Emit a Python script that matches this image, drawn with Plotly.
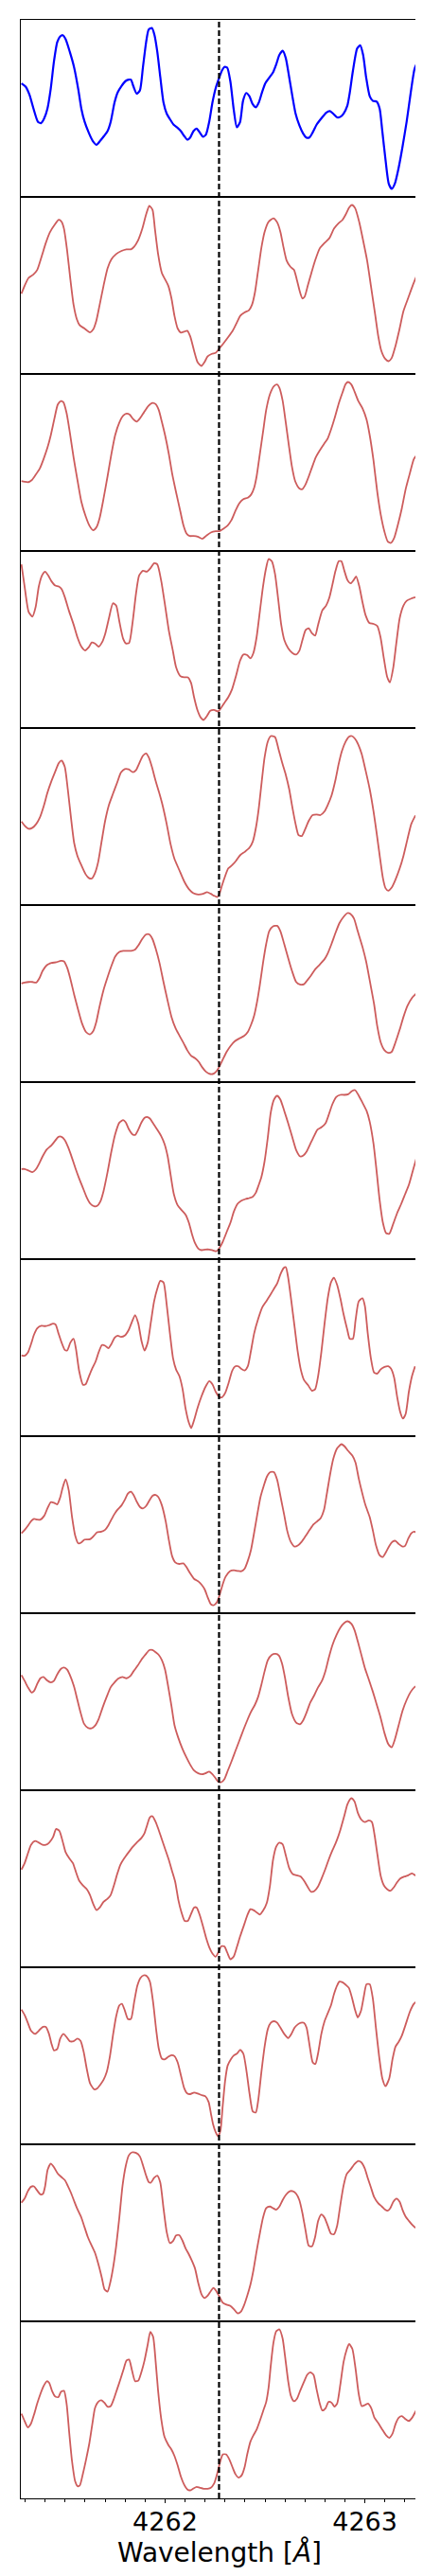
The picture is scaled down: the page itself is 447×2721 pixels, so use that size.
import plotly.graph_objects as go
from plotly.subplots import make_subplots

# ── Spectra: (wavelength [Å], relative flux) ─────────────────────────────────

SPEC_00 = [
    (4261.281, 0.720), (4261.302, 0.700), (4261.321, 0.650), (4261.344, 0.550), (4261.363, 0.480),
    (4261.379, 0.470), (4261.395, 0.500), (4261.411, 0.560), (4261.427, 0.680), (4261.444, 0.860),
    (4261.460, 0.980), (4261.475, 1.016), (4261.488, 1.024), (4261.502, 1.000), (4261.523, 0.920),
    (4261.545, 0.820), (4261.566, 0.680), (4261.581, 0.560), (4261.597, 0.480), (4261.618, 0.410),
    (4261.637, 0.360), (4261.657, 0.334), (4261.676, 0.360), (4261.695, 0.390), (4261.712, 0.420),
    (4261.728, 0.480), (4261.747, 0.600), (4261.763, 0.664), (4261.782, 0.704), (4261.803, 0.736),
    (4261.818, 0.744), (4261.829, 0.744), (4261.842, 0.700), (4261.858, 0.656), (4261.874, 0.676),
    (4261.889, 0.820), (4261.905, 0.980), (4261.918, 1.060), (4261.934, 1.070), (4261.946, 1.030),
    (4261.961, 0.920), (4261.976, 0.760), (4261.992, 0.600), (4262.008, 0.530), (4262.024, 0.496),
    (4262.043, 0.460), (4262.063, 0.440), (4262.079, 0.420), (4262.095, 0.390), (4262.111, 0.366),
    (4262.126, 0.380), (4262.142, 0.420), (4262.158, 0.436), (4262.174, 0.410), (4262.190, 0.384),
    (4262.205, 0.400), (4262.221, 0.480), (4262.237, 0.600), (4262.253, 0.690), (4262.269, 0.750),
    (4262.284, 0.800), (4262.297, 0.824), (4262.311, 0.820), (4262.327, 0.730), (4262.343, 0.560),
    (4262.359, 0.444), (4262.375, 0.476), (4262.390, 0.610), (4262.406, 0.660), (4262.422, 0.640),
    (4262.438, 0.590), (4262.454, 0.570), (4262.469, 0.600), (4262.485, 0.664), (4262.501, 0.720),
    (4262.521, 0.756), (4262.540, 0.790), (4262.556, 0.840), (4262.572, 0.900), (4262.589, 0.926),
    (4262.604, 0.880), (4262.621, 0.760), (4262.637, 0.640), (4262.653, 0.530), (4262.672, 0.456),
    (4262.691, 0.404), (4262.706, 0.380), (4262.722, 0.380), (4262.738, 0.410), (4262.758, 0.460),
    (4262.782, 0.500), (4262.806, 0.536), (4262.825, 0.546), (4262.841, 0.530), (4262.861, 0.506),
    (4262.877, 0.510), (4262.893, 0.530), (4262.912, 0.580), (4262.924, 0.660), (4262.940, 0.800),
    (4262.961, 0.940), (4262.976, 0.960), (4262.991, 0.900), (4263.006, 0.760), (4263.024, 0.640),
    (4263.040, 0.610), (4263.059, 0.606), (4263.074, 0.560), (4263.087, 0.420), (4263.103, 0.240),
    (4263.119, 0.090), (4263.134, 0.056), (4263.150, 0.090), (4263.169, 0.190), (4263.188, 0.320),
    (4263.209, 0.480), (4263.229, 0.660), (4263.248, 0.810), (4263.261, 0.850),
]

SPEC_01 = [
    (4261.281, 0.510), (4261.297, 0.560), (4261.317, 0.610), (4261.340, 0.630), (4261.360, 0.660),
    (4261.381, 0.740), (4261.403, 0.830), (4261.423, 0.896), (4261.447, 0.944), (4261.468, 0.976),
    (4261.482, 0.964), (4261.494, 0.920), (4261.510, 0.780), (4261.526, 0.600), (4261.542, 0.440),
    (4261.558, 0.350), (4261.573, 0.310), (4261.597, 0.290), (4261.624, 0.266), (4261.640, 0.284),
    (4261.656, 0.340), (4261.671, 0.430), (4261.692, 0.560), (4261.712, 0.670), (4261.731, 0.726),
    (4261.755, 0.760), (4261.782, 0.780), (4261.807, 0.790), (4261.829, 0.790), (4261.845, 0.806),
    (4261.866, 0.850), (4261.886, 0.920), (4261.905, 1.010), (4261.921, 1.064), (4261.937, 1.040),
    (4261.949, 0.920), (4261.965, 0.760), (4261.984, 0.640), (4262.000, 0.600), (4262.016, 0.560),
    (4262.032, 0.480), (4262.047, 0.370), (4262.063, 0.290), (4262.079, 0.264), (4262.095, 0.270),
    (4262.111, 0.276), (4262.126, 0.240), (4262.145, 0.150), (4262.163, 0.076), (4262.182, 0.054),
    (4262.198, 0.080), (4262.213, 0.114), (4262.234, 0.130), (4262.253, 0.136), (4262.269, 0.160),
    (4262.292, 0.196), (4262.316, 0.236), (4262.340, 0.280), (4262.360, 0.330), (4262.376, 0.370),
    (4262.398, 0.392), (4262.419, 0.404), (4262.435, 0.440), (4262.450, 0.520), (4262.466, 0.660),
    (4262.482, 0.800), (4262.498, 0.900), (4262.518, 0.964), (4262.542, 0.986), (4262.561, 0.960),
    (4262.577, 0.900), (4262.593, 0.800), (4262.608, 0.720), (4262.627, 0.680), (4262.645, 0.660),
    (4262.659, 0.600), (4262.675, 0.520), (4262.687, 0.480), (4262.698, 0.490), (4262.714, 0.560),
    (4262.732, 0.640), (4262.751, 0.720), (4262.774, 0.796), (4262.798, 0.830), (4262.822, 0.860),
    (4262.845, 0.920), (4262.869, 0.956), (4262.888, 0.976), (4262.904, 1.010), (4262.921, 1.054),
    (4262.935, 1.070), (4262.951, 1.050), (4262.972, 0.960), (4262.992, 0.840), (4263.011, 0.720),
    (4263.030, 0.560), (4263.051, 0.380), (4263.067, 0.240), (4263.082, 0.150), (4263.101, 0.100),
    (4263.119, 0.084), (4263.134, 0.104), (4263.153, 0.180), (4263.172, 0.280), (4263.193, 0.400),
    (4263.217, 0.484), (4263.240, 0.564), (4263.261, 0.630),
]

SPEC_02 = [
    (4261.281, 0.446), (4261.297, 0.442), (4261.316, 0.440), (4261.332, 0.452), (4261.352, 0.486),
    (4261.373, 0.526), (4261.392, 0.586), (4261.411, 0.656), (4261.428, 0.736), (4261.447, 0.846),
    (4261.463, 0.930), (4261.479, 0.952), (4261.491, 0.944), (4261.507, 0.876), (4261.523, 0.756),
    (4261.542, 0.596), (4261.561, 0.456), (4261.581, 0.316), (4261.602, 0.226), (4261.621, 0.166),
    (4261.640, 0.136), (4261.657, 0.156), (4261.673, 0.216), (4261.692, 0.336), (4261.712, 0.476),
    (4261.731, 0.616), (4261.750, 0.736), (4261.771, 0.816), (4261.791, 0.860), (4261.807, 0.872),
    (4261.823, 0.866), (4261.839, 0.840), (4261.858, 0.822), (4261.874, 0.842), (4261.894, 0.880),
    (4261.916, 0.920), (4261.937, 0.940), (4261.953, 0.932), (4261.968, 0.896), (4261.984, 0.820),
    (4262.000, 0.736), (4262.019, 0.616), (4262.035, 0.496), (4262.055, 0.376), (4262.076, 0.256),
    (4262.092, 0.166), (4262.107, 0.116), (4262.123, 0.100), (4262.142, 0.100), (4262.163, 0.096),
    (4262.186, 0.082), (4262.205, 0.100), (4262.229, 0.122), (4262.253, 0.130), (4262.272, 0.130),
    (4262.292, 0.146), (4262.313, 0.166), (4262.332, 0.200), (4262.351, 0.256), (4262.371, 0.306),
    (4262.392, 0.332), (4262.414, 0.342), (4262.430, 0.360), (4262.446, 0.406), (4262.458, 0.476),
    (4262.474, 0.616), (4262.490, 0.756), (4262.506, 0.896), (4262.525, 0.996), (4262.545, 1.046),
    (4262.561, 1.056), (4262.572, 1.036), (4262.588, 0.956), (4262.604, 0.816), (4262.619, 0.676),
    (4262.635, 0.536), (4262.651, 0.446), (4262.672, 0.400), (4262.687, 0.396), (4262.703, 0.426),
    (4262.719, 0.476), (4262.735, 0.532), (4262.754, 0.596), (4262.774, 0.640), (4262.798, 0.686),
    (4262.814, 0.716), (4262.830, 0.770), (4262.849, 0.846), (4262.869, 0.936), (4262.888, 1.006),
    (4262.904, 1.060), (4262.916, 1.072), (4262.932, 1.056), (4262.948, 1.012), (4262.967, 0.952),
    (4262.988, 0.906), (4263.008, 0.836), (4263.024, 0.736), (4263.043, 0.576), (4263.062, 0.376),
    (4263.079, 0.236), (4263.098, 0.126), (4263.114, 0.066), (4263.130, 0.056), (4263.146, 0.086),
    (4263.166, 0.176), (4263.185, 0.276), (4263.204, 0.396), (4263.225, 0.496), (4263.245, 0.586),
    (4263.261, 0.612),
]

SPEC_03 = [
    (4261.281, 1.038), (4261.297, 0.898), (4261.317, 0.738), (4261.336, 0.708), (4261.352, 0.768),
    (4261.368, 0.898), (4261.384, 0.968), (4261.400, 0.992), (4261.415, 0.968), (4261.431, 0.932),
    (4261.450, 0.904), (4261.468, 0.898), (4261.482, 0.882), (4261.498, 0.832), (4261.518, 0.748),
    (4261.542, 0.658), (4261.561, 0.578), (4261.581, 0.518), (4261.600, 0.494), (4261.618, 0.514),
    (4261.633, 0.544), (4261.649, 0.538), (4261.668, 0.518), (4261.684, 0.544), (4261.700, 0.598),
    (4261.719, 0.698), (4261.739, 0.792), (4261.755, 0.778), (4261.771, 0.678), (4261.790, 0.568),
    (4261.804, 0.538), (4261.820, 0.542), (4261.836, 0.658), (4261.855, 0.858), (4261.870, 0.968),
    (4261.889, 0.998), (4261.908, 0.992), (4261.929, 1.018), (4261.945, 1.046), (4261.961, 1.038),
    (4261.980, 0.938), (4262.000, 0.778), (4262.019, 0.618), (4262.038, 0.498), (4262.055, 0.388),
    (4262.076, 0.332), (4262.095, 0.324), (4262.114, 0.324), (4262.130, 0.288), (4262.145, 0.198),
    (4262.163, 0.112), (4262.179, 0.068), (4262.193, 0.054), (4262.209, 0.078), (4262.226, 0.112),
    (4262.245, 0.118), (4262.265, 0.108), (4262.281, 0.132), (4262.297, 0.162), (4262.316, 0.198),
    (4262.335, 0.248), (4262.356, 0.338), (4262.375, 0.428), (4262.392, 0.468), (4262.411, 0.464),
    (4262.427, 0.444), (4262.442, 0.478), (4262.458, 0.578), (4262.474, 0.738), (4262.490, 0.898),
    (4262.506, 1.018), (4262.518, 1.072), (4262.534, 1.058), (4262.550, 0.978), (4262.566, 0.818),
    (4262.581, 0.658), (4262.597, 0.558), (4262.616, 0.508), (4262.637, 0.478), (4262.656, 0.468),
    (4262.672, 0.492), (4262.687, 0.558), (4262.703, 0.622), (4262.719, 0.634), (4262.735, 0.602),
    (4262.751, 0.588), (4262.766, 0.658), (4262.787, 0.748), (4262.806, 0.778), (4262.822, 0.828),
    (4262.837, 0.908), (4262.853, 0.998), (4262.869, 1.058), (4262.882, 1.058), (4262.897, 0.998),
    (4262.913, 0.938), (4262.929, 0.918), (4262.943, 0.938), (4262.956, 0.962), (4262.972, 0.898),
    (4262.988, 0.798), (4263.003, 0.718), (4263.022, 0.668), (4263.043, 0.662), (4263.062, 0.648),
    (4263.078, 0.578), (4263.093, 0.458), (4263.111, 0.328), (4263.125, 0.292), (4263.141, 0.378),
    (4263.157, 0.538), (4263.174, 0.698), (4263.193, 0.778), (4263.209, 0.808), (4263.232, 0.822),
    (4263.253, 0.830),
]

SPEC_04 = [
    (4261.281, 0.530), (4261.297, 0.504), (4261.317, 0.484), (4261.336, 0.490), (4261.355, 0.514),
    (4261.373, 0.554), (4261.392, 0.624), (4261.412, 0.714), (4261.431, 0.784), (4261.450, 0.844),
    (4261.468, 0.898), (4261.482, 0.914), (4261.498, 0.874), (4261.513, 0.734), (4261.529, 0.554),
    (4261.545, 0.394), (4261.561, 0.314), (4261.581, 0.254), (4261.602, 0.198), (4261.618, 0.174),
    (4261.633, 0.170), (4261.649, 0.204), (4261.665, 0.274), (4261.681, 0.394), (4261.700, 0.534),
    (4261.719, 0.634), (4261.739, 0.704), (4261.760, 0.774), (4261.779, 0.838), (4261.798, 0.860),
    (4261.818, 0.858), (4261.839, 0.840), (4261.855, 0.854), (4261.870, 0.894), (4261.889, 0.944),
    (4261.905, 0.958), (4261.918, 0.934), (4261.934, 0.874), (4261.953, 0.784), (4261.972, 0.704),
    (4261.989, 0.624), (4262.008, 0.514), (4262.028, 0.384), (4262.047, 0.294), (4262.071, 0.224),
    (4262.095, 0.154), (4262.119, 0.104), (4262.142, 0.078), (4262.166, 0.070), (4262.190, 0.074),
    (4262.210, 0.084), (4262.229, 0.074), (4262.245, 0.062), (4262.261, 0.054), (4262.272, 0.074),
    (4262.284, 0.124), (4262.300, 0.184), (4262.316, 0.234), (4262.335, 0.254), (4262.356, 0.284),
    (4262.376, 0.318), (4262.398, 0.338), (4262.422, 0.364), (4262.439, 0.404), (4262.455, 0.494),
    (4262.469, 0.614), (4262.483, 0.774), (4262.498, 0.934), (4262.514, 1.034), (4262.529, 1.068),
    (4262.550, 1.062), (4262.566, 0.994), (4262.585, 0.904), (4262.604, 0.824), (4262.621, 0.734),
    (4262.637, 0.618), (4262.653, 0.514), (4262.668, 0.444), (4262.684, 0.438), (4262.700, 0.478),
    (4262.719, 0.534), (4262.738, 0.570), (4262.758, 0.574), (4262.777, 0.570), (4262.798, 0.594),
    (4262.814, 0.634), (4262.833, 0.694), (4262.853, 0.794), (4262.869, 0.894), (4262.885, 0.974),
    (4262.904, 1.034), (4262.920, 1.064), (4262.935, 1.068), (4262.951, 1.050), (4262.967, 1.014),
    (4262.984, 0.954), (4263.003, 0.854), (4263.024, 0.734), (4263.043, 0.594), (4263.059, 0.454),
    (4263.074, 0.314), (4263.090, 0.174), (4263.103, 0.110), (4263.117, 0.094), (4263.134, 0.114),
    (4263.153, 0.164), (4263.174, 0.234), (4263.193, 0.314), (4263.212, 0.414), (4263.232, 0.514),
    (4263.253, 0.568),
]

SPEC_05 = [
    (4261.281, 0.626), (4261.297, 0.632), (4261.317, 0.636), (4261.336, 0.636), (4261.355, 0.632),
    (4261.371, 0.660), (4261.387, 0.706), (4261.408, 0.742), (4261.431, 0.756), (4261.455, 0.760),
    (4261.479, 0.770), (4261.494, 0.766), (4261.510, 0.726), (4261.526, 0.656), (4261.545, 0.556),
    (4261.566, 0.456), (4261.584, 0.376), (4261.605, 0.320), (4261.624, 0.306), (4261.640, 0.326),
    (4261.656, 0.386), (4261.671, 0.476), (4261.692, 0.586), (4261.712, 0.666), (4261.731, 0.736),
    (4261.750, 0.796), (4261.771, 0.826), (4261.791, 0.832), (4261.810, 0.832), (4261.831, 0.832),
    (4261.850, 0.840), (4261.866, 0.866), (4261.885, 0.906), (4261.905, 0.936), (4261.921, 0.936),
    (4261.937, 0.906), (4261.953, 0.846), (4261.972, 0.756), (4261.992, 0.636), (4262.013, 0.516),
    (4262.032, 0.416), (4262.052, 0.346), (4262.071, 0.300), (4262.092, 0.252), (4262.111, 0.206),
    (4262.130, 0.172), (4262.150, 0.156), (4262.169, 0.132), (4262.185, 0.100), (4262.205, 0.070),
    (4262.226, 0.056), (4262.245, 0.060), (4262.261, 0.080), (4262.277, 0.116), (4262.292, 0.156),
    (4262.308, 0.196), (4262.327, 0.232), (4262.348, 0.262), (4262.371, 0.280), (4262.395, 0.296),
    (4262.414, 0.322), (4262.430, 0.366), (4262.446, 0.426), (4262.461, 0.516), (4262.474, 0.616),
    (4262.490, 0.756), (4262.506, 0.876), (4262.521, 0.956), (4262.540, 0.986), (4262.561, 0.990),
    (4262.577, 0.956), (4262.596, 0.876), (4262.616, 0.786), (4262.635, 0.706), (4262.656, 0.636),
    (4262.675, 0.620), (4262.695, 0.622), (4262.711, 0.646), (4262.730, 0.676), (4262.751, 0.716),
    (4262.774, 0.746), (4262.798, 0.780), (4262.814, 0.816), (4262.833, 0.876), (4262.853, 0.946),
    (4262.872, 1.006), (4262.893, 1.046), (4262.912, 1.070), (4262.927, 1.066), (4262.945, 1.036),
    (4262.964, 0.956), (4262.988, 0.856), (4263.006, 0.766), (4263.027, 0.626), (4263.046, 0.496),
    (4263.062, 0.356), (4263.079, 0.256), (4263.098, 0.206), (4263.117, 0.190), (4263.134, 0.196),
    (4263.153, 0.256), (4263.174, 0.336), (4263.193, 0.416), (4263.213, 0.486), (4263.236, 0.536),
    (4263.256, 0.562),
]

SPEC_06 = [
    (4261.281, 0.574), (4261.297, 0.574), (4261.317, 0.564), (4261.336, 0.554), (4261.352, 0.570),
    (4261.368, 0.604), (4261.387, 0.654), (4261.408, 0.698), (4261.431, 0.724), (4261.450, 0.754),
    (4261.466, 0.778), (4261.482, 0.778), (4261.498, 0.758), (4261.513, 0.718), (4261.529, 0.664),
    (4261.550, 0.584), (4261.570, 0.514), (4261.589, 0.454), (4261.608, 0.394), (4261.626, 0.354),
    (4261.645, 0.338), (4261.660, 0.340), (4261.676, 0.368), (4261.692, 0.434), (4261.712, 0.554),
    (4261.731, 0.684), (4261.750, 0.794), (4261.771, 0.868), (4261.790, 0.884), (4261.803, 0.870),
    (4261.818, 0.828), (4261.837, 0.794), (4261.850, 0.790), (4261.866, 0.824), (4261.882, 0.870),
    (4261.897, 0.898), (4261.910, 0.904), (4261.924, 0.894), (4261.940, 0.864), (4261.961, 0.824),
    (4261.980, 0.784), (4261.997, 0.734), (4262.013, 0.654), (4262.028, 0.534), (4262.044, 0.414),
    (4262.063, 0.344), (4262.082, 0.314), (4262.103, 0.284), (4262.119, 0.234), (4262.134, 0.164),
    (4262.150, 0.104), (4262.166, 0.070), (4262.182, 0.060), (4262.202, 0.064), (4262.221, 0.064),
    (4262.240, 0.058), (4262.258, 0.054), (4262.272, 0.074), (4262.289, 0.114), (4262.308, 0.174),
    (4262.327, 0.234), (4262.344, 0.304), (4262.363, 0.354), (4262.382, 0.374), (4262.403, 0.384),
    (4262.422, 0.390), (4262.438, 0.398), (4262.454, 0.424), (4262.466, 0.464), (4262.482, 0.524),
    (4262.498, 0.624), (4262.514, 0.774), (4262.529, 0.934), (4262.545, 1.014), (4262.561, 1.038),
    (4262.577, 1.014), (4262.596, 0.944), (4262.616, 0.864), (4262.637, 0.774), (4262.656, 0.694),
    (4262.676, 0.654), (4262.692, 0.660), (4262.708, 0.684), (4262.727, 0.734), (4262.746, 0.784),
    (4262.763, 0.824), (4262.782, 0.838), (4262.803, 0.864), (4262.818, 0.914), (4262.837, 0.984),
    (4262.856, 1.030), (4262.877, 1.044), (4262.897, 1.044), (4262.916, 1.048), (4262.935, 1.068),
    (4262.951, 1.074), (4262.967, 1.044), (4262.988, 0.994), (4263.008, 0.944), (4263.024, 0.874),
    (4263.043, 0.734), (4263.059, 0.554), (4263.074, 0.374), (4263.090, 0.234), (4263.106, 0.168),
    (4263.122, 0.164), (4263.141, 0.224), (4263.161, 0.294), (4263.182, 0.354), (4263.201, 0.414),
    (4263.220, 0.474), (4263.240, 0.564), (4263.259, 0.648),
]

SPEC_07 = [
    (4261.281, 0.516), (4261.297, 0.512), (4261.313, 0.532), (4261.329, 0.586), (4261.344, 0.646),
    (4261.360, 0.686), (4261.381, 0.702), (4261.400, 0.700), (4261.420, 0.706), (4261.439, 0.716),
    (4261.452, 0.710), (4261.466, 0.656), (4261.482, 0.596), (4261.498, 0.550), (4261.510, 0.546),
    (4261.526, 0.596), (4261.542, 0.620), (4261.554, 0.556), (4261.570, 0.416), (4261.589, 0.330),
    (4261.602, 0.332), (4261.618, 0.380), (4261.633, 0.426), (4261.652, 0.476), (4261.668, 0.536),
    (4261.684, 0.580), (4261.700, 0.576), (4261.716, 0.560), (4261.731, 0.586), (4261.747, 0.626),
    (4261.763, 0.640), (4261.779, 0.632), (4261.798, 0.640), (4261.818, 0.676), (4261.834, 0.726),
    (4261.850, 0.770), (4261.866, 0.716), (4261.882, 0.606), (4261.897, 0.546), (4261.913, 0.596),
    (4261.929, 0.726), (4261.945, 0.856), (4261.961, 0.936), (4261.976, 0.986), (4261.992, 0.976),
    (4262.008, 0.836), (4262.024, 0.656), (4262.040, 0.496), (4262.055, 0.426), (4262.071, 0.386),
    (4262.087, 0.306), (4262.103, 0.176), (4262.119, 0.090), (4262.131, 0.056), (4262.145, 0.106),
    (4262.163, 0.186), (4262.182, 0.256), (4262.202, 0.316), (4262.221, 0.352), (4262.237, 0.332),
    (4262.253, 0.286), (4262.269, 0.256), (4262.284, 0.250), (4262.300, 0.276), (4262.319, 0.346),
    (4262.335, 0.416), (4262.351, 0.446), (4262.367, 0.446), (4262.382, 0.430), (4262.398, 0.420),
    (4262.414, 0.446), (4262.430, 0.546), (4262.446, 0.656), (4262.466, 0.746), (4262.487, 0.820),
    (4262.506, 0.856), (4262.526, 0.896), (4262.545, 0.936), (4262.561, 0.970), (4262.577, 1.026),
    (4262.593, 1.066), (4262.604, 1.072), (4262.616, 1.006), (4262.632, 0.856), (4262.648, 0.696),
    (4262.664, 0.536), (4262.679, 0.426), (4262.695, 0.360), (4262.716, 0.326), (4262.735, 0.292),
    (4262.751, 0.302), (4262.766, 0.386), (4262.782, 0.536), (4262.798, 0.716), (4262.814, 0.876),
    (4262.830, 0.976), (4262.845, 1.006), (4262.861, 0.960), (4262.877, 0.876), (4262.893, 0.776),
    (4262.912, 0.676), (4262.924, 0.620), (4262.940, 0.620), (4262.953, 0.736), (4262.969, 0.856),
    (4262.988, 0.876), (4263.000, 0.826), (4263.014, 0.656), (4263.030, 0.496), (4263.046, 0.406),
    (4263.062, 0.400), (4263.078, 0.426), (4263.098, 0.442), (4263.117, 0.446), (4263.130, 0.432),
    (4263.146, 0.376), (4263.161, 0.256), (4263.177, 0.156), (4263.190, 0.116), (4263.204, 0.146),
    (4263.220, 0.286), (4263.236, 0.386), (4263.251, 0.446),
]

SPEC_08 = [
    (4261.281, 0.508), (4261.297, 0.528), (4261.313, 0.554), (4261.329, 0.584), (4261.344, 0.598),
    (4261.360, 0.594), (4261.376, 0.594), (4261.395, 0.618), (4261.411, 0.664), (4261.428, 0.704),
    (4261.444, 0.700), (4261.460, 0.690), (4261.475, 0.734), (4261.487, 0.794), (4261.502, 0.848),
    (4261.518, 0.778), (4261.534, 0.614), (4261.550, 0.494), (4261.566, 0.444), (4261.581, 0.450),
    (4261.597, 0.468), (4261.624, 0.470), (4261.645, 0.494), (4261.660, 0.514), (4261.681, 0.518),
    (4261.700, 0.530), (4261.716, 0.558), (4261.731, 0.594), (4261.747, 0.630), (4261.763, 0.658),
    (4261.782, 0.684), (4261.798, 0.718), (4261.814, 0.758), (4261.829, 0.770), (4261.842, 0.750),
    (4261.858, 0.708), (4261.874, 0.674), (4261.889, 0.664), (4261.905, 0.680), (4261.921, 0.714),
    (4261.937, 0.744), (4261.953, 0.750), (4261.965, 0.738), (4261.984, 0.684), (4262.003, 0.584),
    (4262.019, 0.464), (4262.035, 0.364), (4262.051, 0.324), (4262.071, 0.314), (4262.092, 0.318),
    (4262.107, 0.294), (4262.126, 0.254), (4262.145, 0.220), (4262.166, 0.204), (4262.182, 0.184),
    (4262.198, 0.154), (4262.213, 0.104), (4262.229, 0.060), (4262.245, 0.054), (4262.258, 0.070),
    (4262.272, 0.114), (4262.288, 0.184), (4262.303, 0.234), (4262.324, 0.268), (4262.344, 0.274),
    (4262.363, 0.270), (4262.382, 0.268), (4262.398, 0.284), (4262.414, 0.334), (4262.430, 0.404),
    (4262.446, 0.514), (4262.461, 0.624), (4262.477, 0.734), (4262.493, 0.804), (4262.509, 0.864),
    (4262.526, 0.894), (4262.545, 0.894), (4262.561, 0.844), (4262.577, 0.744), (4262.596, 0.624),
    (4262.611, 0.524), (4262.629, 0.454), (4262.648, 0.424), (4262.664, 0.430), (4262.683, 0.454),
    (4262.703, 0.490), (4262.724, 0.530), (4262.743, 0.564), (4262.762, 0.584), (4262.779, 0.604),
    (4262.795, 0.654), (4262.809, 0.754), (4262.825, 0.874), (4262.841, 0.974), (4262.861, 1.044),
    (4262.882, 1.070), (4262.897, 1.058), (4262.916, 1.028), (4262.937, 0.998), (4262.953, 0.954),
    (4262.969, 0.854), (4262.988, 0.754), (4263.003, 0.684), (4263.024, 0.610), (4263.040, 0.524),
    (4263.055, 0.434), (4263.074, 0.368), (4263.090, 0.358), (4263.106, 0.390), (4263.122, 0.428),
    (4263.138, 0.454), (4263.153, 0.460), (4263.169, 0.440), (4263.188, 0.424), (4263.201, 0.428),
    (4263.217, 0.474), (4263.232, 0.508), (4263.248, 0.518), (4263.261, 0.508),
]

SPEC_09 = [
    (4261.281, 0.732), (4261.297, 0.696), (4261.313, 0.656), (4261.332, 0.622), (4261.344, 0.632),
    (4261.360, 0.676), (4261.376, 0.712), (4261.392, 0.720), (4261.408, 0.700), (4261.428, 0.686),
    (4261.444, 0.696), (4261.460, 0.736), (4261.479, 0.772), (4261.494, 0.780), (4261.510, 0.766),
    (4261.529, 0.716), (4261.545, 0.656), (4261.561, 0.576), (4261.577, 0.496), (4261.594, 0.426),
    (4261.613, 0.400), (4261.632, 0.396), (4261.649, 0.412), (4261.668, 0.456), (4261.687, 0.526),
    (4261.708, 0.596), (4261.728, 0.656), (4261.747, 0.686), (4261.766, 0.710), (4261.787, 0.720),
    (4261.807, 0.712), (4261.826, 0.726), (4261.842, 0.756), (4261.863, 0.792), (4261.882, 0.830),
    (4261.902, 0.862), (4261.921, 0.890), (4261.937, 0.890), (4261.953, 0.876), (4261.968, 0.860),
    (4261.984, 0.826), (4262.000, 0.766), (4262.016, 0.656), (4262.032, 0.536), (4262.047, 0.416),
    (4262.066, 0.336), (4262.087, 0.266), (4262.107, 0.212), (4262.126, 0.166), (4262.145, 0.130),
    (4262.166, 0.112), (4262.185, 0.106), (4262.201, 0.112), (4262.221, 0.122), (4262.237, 0.106),
    (4262.253, 0.080), (4262.265, 0.060), (4262.281, 0.056), (4262.297, 0.076), (4262.313, 0.126),
    (4262.332, 0.186), (4262.351, 0.250), (4262.371, 0.316), (4262.392, 0.386), (4262.411, 0.446),
    (4262.430, 0.500), (4262.450, 0.546), (4262.466, 0.596), (4262.482, 0.672), (4262.498, 0.756),
    (4262.514, 0.826), (4262.534, 0.860), (4262.553, 0.866), (4262.569, 0.856), (4262.585, 0.806),
    (4262.600, 0.716), (4262.616, 0.596), (4262.635, 0.486), (4262.656, 0.432), (4262.675, 0.422),
    (4262.691, 0.446), (4262.708, 0.496), (4262.727, 0.560), (4262.747, 0.606), (4262.766, 0.656),
    (4262.785, 0.696), (4262.803, 0.760), (4262.818, 0.836), (4262.837, 0.920), (4262.858, 0.986),
    (4262.877, 1.032), (4262.897, 1.062), (4262.913, 1.072), (4262.932, 1.056), (4262.948, 1.016),
    (4262.964, 0.946), (4262.983, 0.856), (4263.000, 0.776), (4263.019, 0.706), (4263.040, 0.626),
    (4263.059, 0.546), (4263.078, 0.466), (4263.098, 0.366), (4263.117, 0.296), (4263.134, 0.276),
    (4263.150, 0.326), (4263.169, 0.416), (4263.188, 0.506), (4263.209, 0.576), (4263.229, 0.626),
    (4263.248, 0.656), (4263.259, 0.662),
]

SPEC_10 = [
    (4261.281, 0.620), (4261.297, 0.660), (4261.313, 0.720), (4261.329, 0.776), (4261.349, 0.800),
    (4261.368, 0.790), (4261.387, 0.776), (4261.403, 0.776), (4261.420, 0.790), (4261.439, 0.824),
    (4261.455, 0.876), (4261.471, 0.864), (4261.487, 0.800), (4261.502, 0.730), (4261.521, 0.690),
    (4261.539, 0.660), (4261.554, 0.604), (4261.570, 0.550), (4261.589, 0.520), (4261.608, 0.496),
    (4261.624, 0.460), (4261.640, 0.404), (4261.657, 0.364), (4261.673, 0.380), (4261.692, 0.416),
    (4261.712, 0.436), (4261.728, 0.460), (4261.744, 0.520), (4261.760, 0.590), (4261.776, 0.650),
    (4261.795, 0.690), (4261.818, 0.730), (4261.839, 0.764), (4261.858, 0.790), (4261.882, 0.820),
    (4261.897, 0.850), (4261.910, 0.900), (4261.924, 0.950), (4261.937, 0.956), (4261.953, 0.920),
    (4261.968, 0.870), (4261.984, 0.810), (4262.000, 0.750), (4262.019, 0.680), (4262.035, 0.610),
    (4262.051, 0.540), (4262.066, 0.430), (4262.082, 0.350), (4262.098, 0.296), (4262.114, 0.296),
    (4262.130, 0.340), (4262.145, 0.380), (4262.158, 0.380), (4262.174, 0.330), (4262.190, 0.260),
    (4262.205, 0.190), (4262.221, 0.130), (4262.237, 0.090), (4262.253, 0.070), (4262.269, 0.104),
    (4262.281, 0.136), (4262.297, 0.134), (4262.311, 0.096), (4262.327, 0.054), (4262.343, 0.070),
    (4262.359, 0.130), (4262.376, 0.200), (4262.395, 0.270), (4262.411, 0.330), (4262.427, 0.370),
    (4262.442, 0.364), (4262.458, 0.350), (4262.474, 0.336), (4262.490, 0.360), (4262.509, 0.410),
    (4262.525, 0.520), (4262.540, 0.680), (4262.556, 0.764), (4262.572, 0.790), (4262.588, 0.780),
    (4262.604, 0.710), (4262.621, 0.630), (4262.640, 0.590), (4262.659, 0.584), (4262.679, 0.576),
    (4262.695, 0.550), (4262.714, 0.510), (4262.730, 0.480), (4262.747, 0.484), (4262.766, 0.514),
    (4262.782, 0.560), (4262.801, 0.620), (4262.818, 0.680), (4262.837, 0.740), (4262.858, 0.800),
    (4262.877, 0.870), (4262.897, 0.960), (4262.913, 1.034), (4262.932, 1.070), (4262.948, 1.050),
    (4262.964, 0.980), (4262.983, 0.934), (4263.000, 0.920), (4263.019, 0.930), (4263.035, 0.920),
    (4263.048, 0.840), (4263.063, 0.710), (4263.079, 0.580), (4263.095, 0.520), (4263.111, 0.496),
    (4263.127, 0.486), (4263.146, 0.510), (4263.161, 0.540), (4263.177, 0.564), (4263.198, 0.576),
    (4263.217, 0.584), (4263.236, 0.596), (4263.251, 0.584), (4263.264, 0.574),
]

SPEC_11 = [
    (4261.281, 0.856), (4261.297, 0.822), (4261.313, 0.772), (4261.329, 0.722), (4261.349, 0.702),
    (4261.368, 0.722), (4261.387, 0.746), (4261.403, 0.746), (4261.419, 0.702), (4261.431, 0.642),
    (4261.444, 0.598), (4261.460, 0.606), (4261.475, 0.672), (4261.491, 0.702), (4261.507, 0.682),
    (4261.523, 0.656), (4261.542, 0.656), (4261.561, 0.672), (4261.577, 0.658), (4261.592, 0.592),
    (4261.608, 0.482), (4261.624, 0.392), (4261.645, 0.352), (4261.660, 0.358), (4261.676, 0.382),
    (4261.692, 0.412), (4261.708, 0.462), (4261.724, 0.562), (4261.739, 0.692), (4261.755, 0.812),
    (4261.771, 0.882), (4261.784, 0.892), (4261.798, 0.852), (4261.814, 0.796), (4261.829, 0.796),
    (4261.845, 0.902), (4261.861, 1.006), (4261.877, 1.056), (4261.893, 1.072), (4261.908, 1.068),
    (4261.924, 1.032), (4261.940, 0.902), (4261.956, 0.722), (4261.968, 0.612), (4261.984, 0.546),
    (4262.000, 0.542), (4262.016, 0.558), (4262.032, 0.568), (4262.047, 0.562), (4262.063, 0.522),
    (4262.079, 0.442), (4262.095, 0.362), (4262.111, 0.326), (4262.126, 0.322), (4262.145, 0.332),
    (4262.163, 0.326), (4262.182, 0.316), (4262.202, 0.308), (4262.218, 0.272), (4262.229, 0.202),
    (4262.240, 0.132), (4262.253, 0.082), (4262.265, 0.056), (4262.277, 0.092), (4262.288, 0.242),
    (4262.300, 0.402), (4262.313, 0.502), (4262.329, 0.542), (4262.344, 0.566), (4262.360, 0.578),
    (4262.376, 0.602), (4262.392, 0.576), (4262.408, 0.462), (4262.423, 0.322), (4262.439, 0.212),
    (4262.454, 0.206), (4262.466, 0.282), (4262.482, 0.462), (4262.498, 0.622), (4262.514, 0.732),
    (4262.529, 0.772), (4262.545, 0.782), (4262.561, 0.772), (4262.577, 0.742), (4262.596, 0.702),
    (4262.616, 0.676), (4262.632, 0.702), (4262.648, 0.742), (4262.664, 0.762), (4262.679, 0.772),
    (4262.695, 0.772), (4262.708, 0.742), (4262.724, 0.622), (4262.739, 0.522), (4262.752, 0.512),
    (4262.766, 0.582), (4262.782, 0.702), (4262.798, 0.782), (4262.814, 0.832), (4262.830, 0.882),
    (4262.845, 0.952), (4262.861, 1.008), (4262.872, 1.032), (4262.888, 1.028), (4262.904, 1.012),
    (4262.920, 0.992), (4262.935, 0.932), (4262.951, 0.852), (4262.964, 0.806), (4262.980, 0.846),
    (4262.995, 0.942), (4263.008, 1.016), (4263.024, 1.016), (4263.040, 0.922), (4263.055, 0.742),
    (4263.071, 0.562), (4263.087, 0.422), (4263.103, 0.372), (4263.122, 0.422), (4263.138, 0.542),
    (4263.153, 0.622), (4263.169, 0.652), (4263.185, 0.692), (4263.204, 0.762), (4263.225, 0.842),
    (4263.245, 0.892), (4263.264, 0.912),
]

SPEC_12 = [
    (4261.281, 0.756), (4261.297, 0.782), (4261.313, 0.828), (4261.329, 0.856), (4261.344, 0.858),
    (4261.360, 0.832), (4261.376, 0.808), (4261.389, 0.812), (4261.400, 0.862), (4261.412, 0.962),
    (4261.428, 1.002), (4261.444, 0.978), (4261.463, 0.938), (4261.482, 0.916), (4261.498, 0.898),
    (4261.513, 0.862), (4261.529, 0.818), (4261.545, 0.766), (4261.561, 0.716), (4261.581, 0.662),
    (4261.597, 0.602), (4261.613, 0.542), (4261.629, 0.496), (4261.649, 0.442), (4261.668, 0.362),
    (4261.684, 0.282), (4261.697, 0.212), (4261.712, 0.198), (4261.725, 0.252), (4261.739, 0.342),
    (4261.755, 0.482), (4261.771, 0.662), (4261.787, 0.862), (4261.803, 0.986), (4261.818, 1.052),
    (4261.834, 1.072), (4261.855, 1.068), (4261.874, 1.046), (4261.889, 0.992), (4261.905, 0.926),
    (4261.918, 0.886), (4261.929, 0.882), (4261.945, 0.912), (4261.961, 0.926), (4261.976, 0.882),
    (4261.992, 0.722), (4262.008, 0.572), (4262.024, 0.502), (4262.040, 0.516), (4262.055, 0.550),
    (4262.071, 0.552), (4262.087, 0.518), (4262.103, 0.468), (4262.119, 0.432), (4262.134, 0.392),
    (4262.150, 0.342), (4262.166, 0.252), (4262.182, 0.182), (4262.198, 0.158), (4262.213, 0.172),
    (4262.229, 0.202), (4262.242, 0.222), (4262.256, 0.202), (4262.272, 0.166), (4262.289, 0.128),
    (4262.308, 0.116), (4262.327, 0.108), (4262.344, 0.088), (4262.363, 0.062), (4262.379, 0.072),
    (4262.395, 0.112), (4262.411, 0.172), (4262.427, 0.242), (4262.442, 0.332), (4262.458, 0.452),
    (4262.474, 0.562), (4262.490, 0.662), (4262.506, 0.722), (4262.525, 0.732), (4262.540, 0.722),
    (4262.556, 0.712), (4262.572, 0.732), (4262.588, 0.772), (4262.605, 0.806), (4262.624, 0.828),
    (4262.640, 0.828), (4262.656, 0.812), (4262.672, 0.772), (4262.687, 0.692), (4262.703, 0.582),
    (4262.719, 0.486), (4262.735, 0.482), (4262.751, 0.542), (4262.766, 0.642), (4262.782, 0.682),
    (4262.798, 0.662), (4262.814, 0.612), (4262.830, 0.562), (4262.845, 0.558), (4262.861, 0.612),
    (4262.877, 0.742), (4262.893, 0.862), (4262.909, 0.936), (4262.929, 0.966), (4262.948, 0.998),
    (4262.967, 1.018), (4262.983, 1.008), (4262.999, 0.972), (4263.014, 0.912), (4263.030, 0.852),
    (4263.046, 0.792), (4263.067, 0.752), (4263.085, 0.732), (4263.101, 0.712), (4263.114, 0.706),
    (4263.127, 0.722), (4263.142, 0.762), (4263.158, 0.782), (4263.174, 0.762), (4263.188, 0.712),
    (4263.204, 0.668), (4263.220, 0.642), (4263.236, 0.618), (4263.253, 0.598),
]

SPEC_13 = [
    (4261.281, 0.538), (4261.297, 0.492), (4261.313, 0.452), (4261.329, 0.476), (4261.344, 0.532),
    (4261.360, 0.602), (4261.376, 0.662), (4261.392, 0.712), (4261.408, 0.742), (4261.420, 0.732),
    (4261.434, 0.682), (4261.450, 0.646), (4261.466, 0.642), (4261.479, 0.676), (4261.494, 0.682),
    (4261.507, 0.602), (4261.520, 0.422), (4261.534, 0.242), (4261.550, 0.112), (4261.562, 0.082),
    (4261.573, 0.086), (4261.589, 0.162), (4261.605, 0.252), (4261.621, 0.352), (4261.637, 0.482),
    (4261.649, 0.572), (4261.665, 0.612), (4261.681, 0.622), (4261.697, 0.606), (4261.712, 0.582),
    (4261.728, 0.586), (4261.744, 0.632), (4261.760, 0.692), (4261.776, 0.752), (4261.791, 0.812),
    (4261.807, 0.872), (4261.820, 0.878), (4261.834, 0.812), (4261.850, 0.742), (4261.866, 0.746),
    (4261.882, 0.802), (4261.897, 0.872), (4261.913, 0.972), (4261.926, 1.052), (4261.940, 1.022),
    (4261.953, 0.862), (4261.965, 0.682), (4261.981, 0.502), (4261.997, 0.392), (4262.016, 0.342),
    (4262.032, 0.312), (4262.047, 0.272), (4262.063, 0.212), (4262.079, 0.142), (4262.095, 0.092),
    (4262.111, 0.062), (4262.126, 0.056), (4262.142, 0.068), (4262.158, 0.078), (4262.174, 0.072),
    (4262.193, 0.066), (4262.213, 0.066), (4262.229, 0.072), (4262.245, 0.098), (4262.261, 0.162),
    (4262.277, 0.242), (4262.289, 0.282), (4262.305, 0.282), (4262.321, 0.252), (4262.337, 0.202),
    (4262.352, 0.158), (4262.368, 0.136), (4262.384, 0.152), (4262.398, 0.202), (4262.411, 0.282),
    (4262.427, 0.362), (4262.442, 0.402), (4262.458, 0.438), (4262.474, 0.492), (4262.490, 0.552),
    (4262.506, 0.612), (4262.518, 0.702), (4262.529, 0.842), (4262.542, 0.982), (4262.556, 1.056),
    (4262.572, 1.068), (4262.588, 1.012), (4262.600, 0.902), (4262.616, 0.742), (4262.629, 0.652),
    (4262.645, 0.616), (4262.660, 0.632), (4262.676, 0.682), (4262.695, 0.738), (4262.711, 0.782),
    (4262.727, 0.798), (4262.743, 0.782), (4262.758, 0.692), (4262.774, 0.602), (4262.787, 0.558),
    (4262.803, 0.572), (4262.818, 0.612), (4262.834, 0.606), (4262.847, 0.582), (4262.861, 0.602),
    (4262.877, 0.722), (4262.893, 0.862), (4262.909, 0.942), (4262.921, 0.976), (4262.937, 0.946),
    (4262.953, 0.822), (4262.969, 0.662), (4262.984, 0.586), (4263.000, 0.592), (4263.016, 0.602),
    (4263.032, 0.572), (4263.048, 0.512), (4263.067, 0.478), (4263.085, 0.442), (4263.106, 0.402),
    (4263.122, 0.386), (4263.138, 0.412), (4263.153, 0.472), (4263.169, 0.512), (4263.185, 0.522),
    (4263.201, 0.506), (4263.220, 0.492), (4263.236, 0.512), (4263.251, 0.546), (4263.264, 0.578),
]

SPECTRA = [SPEC_00, SPEC_01, SPEC_02, SPEC_03, SPEC_04, SPEC_05, SPEC_06,
           SPEC_07, SPEC_08, SPEC_09, SPEC_10, SPEC_11, SPEC_12, SPEC_13]

LINE_CENTER = 4262.27          # dashed reference wavelength
X_RANGE = [4261.278, 4263.267]
X_TICKS = [4262, 4263]
X_TITLE = "Wavelength [<i>Å</i>]"

BLUE = "#0000ff"
RED = "#cd5c5c"
FONT = "DejaVu Sans"

# ── Figure ────────────────────────────────────────────────────────────────────

n = len(SPECTRA)
fig = make_subplots(rows=n, cols=1, vertical_spacing=0)

for i, spec in enumerate(SPECTRA):
    wl = [p[0] for p in spec]
    fx = [p[1] for p in spec]
    first = i == 0
    fig.add_trace(go.Scatter(
        x=wl, y=fx, mode="lines", showlegend=False, hoverinfo="skip",
        line=dict(color=BLUE if first else RED, width=2.2 if first else 1.8,
                  shape="spline", smoothing=0.6),
    ), row=i + 1, col=1)

    lo, hi = min(fx), max(fx)
    pad = 0.05 * (hi - lo)
    last = i == n - 1
    fig.update_yaxes(range=[lo - pad, hi + pad], showticklabels=False, ticks="",
                     showgrid=False, zeroline=False, showline=True, mirror=True,
                     linecolor="black", linewidth=1, row=i + 1, col=1)
    fig.update_xaxes(range=X_RANGE, showgrid=False, zeroline=False, showline=True,
                     mirror=True, linecolor="black", linewidth=1,
                     showticklabels=last, ticks="outside" if last else "",
                     tickvals=X_TICKS, ticklen=4, tickwidth=1, tickcolor="black",
                     minor=dict(dtick=0.1, tick0=4262, ticks="outside" if last else "",
                                ticklen=3, tickwidth=1, tickcolor="black", showgrid=False),
                     row=i + 1, col=1)

fig.update_xaxes(title=dict(text=X_TITLE, font=dict(family=FONT, size=28, color="black"),
                            standoff=2),
                 tickfont=dict(family=FONT, size=27, color="black"),
                 ticklabelstandoff=-3, row=n, col=1)

fig.add_shape(type="line", xref="x", yref="paper", x0=LINE_CENTER, x1=LINE_CENTER,
              y0=0, y1=1, line=dict(color="black", width=2.2, dash="6px,3px"), layer="above")

fig.update_layout(
    width=447, height=2721,
    margin=dict(l=14, r=13, t=13, b=90),
    paper_bgcolor="white", plot_bgcolor="white",
    font=dict(family=FONT, color="black"),
)

fig.write_html("out.html")
